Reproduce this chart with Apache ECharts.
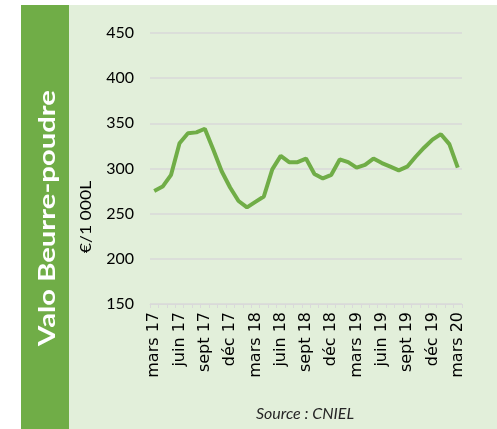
<!DOCTYPE html>
<html>
<head>
    <meta charset="UTF-8">
    <title>Valo Beurre-poudre</title>
    <script type="text/javascript" src="https://cdn.jsdelivr.net/npm/echarts@6/dist/echarts.min.js"></script>
    <style>
        html, body { margin: 0; padding: 0; background: #fff; }
    </style>
</head>
<body>
<div id="main" style="width: 497px;height:429px;"></div>
<script type="text/javascript">
    // mois de mars 17 à mars 20
    var months = ['mars 17', 'avr 17', 'mai 17', 'juin 17', 'juil 17', 'août 17', 'sept 17', 'oct 17', 'nov 17', 'déc 17', 'janv 18', 'févr 18',
        'mars 18', 'avr 18', 'mai 18', 'juin 18', 'juil 18', 'août 18', 'sept 18', 'oct 18', 'nov 18', 'déc 18', 'janv 19', 'févr 19',
        'mars 19', 'avr 19', 'mai 19', 'juin 19', 'juil 19', 'août 19', 'sept 19', 'oct 19', 'nov 19', 'déc 19', 'janv 20', 'févr 20',
        'mars 20'];
    // valorisation beurre-poudre, €/1 000L
    var valo = [275, 280, 293, 328, 339, 340, 344, 321, 297, 279, 264, 257, 263, 269, 299, 314, 307, 307, 311,
        294, 289, 293, 310, 307, 301, 304, 311, 306, 302, 298, 302, 313, 323, 332, 338, 327, 301];
    var yTicks = [150, 200, 250, 300, 350, 400, 450];

    var myChart = echarts.init(document.getElementById('main'));

    var option = {
        animation: false,
        textStyle: {fontFamily: 'Lato'},
        graphic: [
            {type: 'rect', shape: {x: 21, y: 5, width: 476, height: 424}, style: {fill: '#E2EFDA'}, z: -10},
            {type: 'rect', shape: {x: 21, y: 5, width: 48, height: 424}, style: {fill: '#70AD47'}, z: -9},
            {
                // titre vertical, étiré comme dans l'original
                type: 'text', x: 48, y: 218, rotation: Math.PI / 2, scaleX: 1.33,
                style: {text: 'Valo Beurre-poudre', fill: '#fff', font: 'bold 22px Lato', align: 'center', verticalAlign: 'middle'}
            },
            {
                type: 'text', x: 86, y: 217, rotation: Math.PI / 2, scaleX: 1.17,
                style: {text: '€/1 000L', fill: '#000', font: '15px Lato', align: 'center', verticalAlign: 'middle'}
            },
            {
                type: 'text', x: 305, y: 414,
                style: {text: 'Source : CNIEL', fill: '#262626', font: 'italic 16px Lato', align: 'center', verticalAlign: 'middle'}
            }
        ],
        grid: {left: 150, right: 35, top: 33, bottom: 125},
        xAxis: {
            type: 'category',
            data: months,
            boundaryGap: true,
            axisLine: {lineStyle: {color: '#D9D9D9', width: 1}},
            axisTick: {show: true, interval: 0, length: 4, lineStyle: {color: '#D9D9D9'}},
            axisLabel: {
                interval: 2, rotate: 90, margin: 8, fontSize: 16, color: '#000', fontFamily: 'DejaVu Sans'
            }
        },
        yAxis: {
            type: 'value',
            min: yTicks[0],
            max: yTicks[yTicks.length - 1],
            interval: 50,
            axisLine: {show: false},
            axisTick: {show: false},
            axisLabel: {fontSize: 16, color: '#000', margin: 16, fontFamily: 'Lato'},
            splitLine: {lineStyle: {color: '#D9D9D9', width: 1.5}}
        },
        series: [
            {
                name: 'Valo Beurre-poudre',
                type: 'line',
                data: valo,
                showSymbol: false,
                lineStyle: {color: '#70AD47', width: 4},
                itemStyle: {color: '#70AD47'}
            }
        ]
    };

    myChart.setOption(option);
</script>
</body>
</html>
